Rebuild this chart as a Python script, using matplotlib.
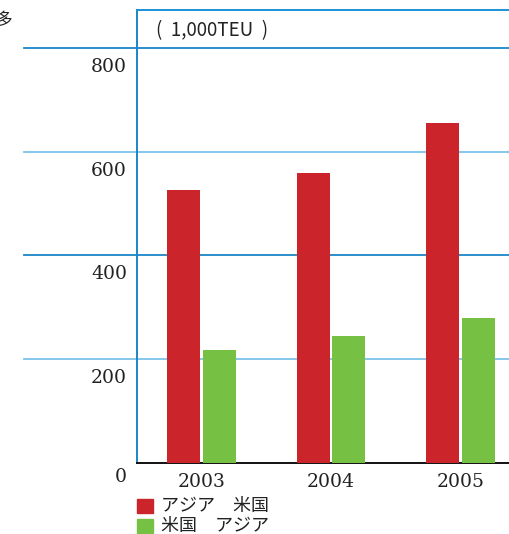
import matplotlib
matplotlib.use('Agg')
import matplotlib.pyplot as plt
import matplotlib.transforms as mtransforms
from matplotlib.patches import Rectangle

years = ['2003', '2004', '2005']
asia_to_us = [527, 558, 656]
us_to_asia = [218, 245, 280]
yticks = [0, 200, 400, 600, 800]
legend_labels = ['アジア\u3000米国', '米国\u3000アジア']
unit_label = '(  1,000TEU  )'

red = '#cc242b'
green = '#76c043'
blue_dark = '#1a86c8'
blue_light = '#7cc3ea'

plt.rcParams['font.family'] = ['Noto Sans CJK JP', 'DejaVu Sans']

fig = plt.figure(figsize=(5.10, 5.34), dpi=100)
ax = fig.add_axes([137 / 510, 71 / 534, 373 / 510, 453 / 534])

x = range(len(years))
w = 0.255
off = 0.136
ax.bar([i - off for i in x], asia_to_us, width=w, color=red, zorder=3)
ax.bar([i + off for i in x], us_to_asia, width=w, color=green, zorder=3)

ax.set_xlim(-0.498, 2.382)
ax.set_ylim(0, 873)

# gridlines reaching out past the left spine
for k, v in enumerate(yticks[1:]):
    col = blue_light if k % 2 == 0 else blue_dark
    ax.axhline(v, xmin=-0.303, xmax=1, color=col, lw=1.3, clip_on=False, zorder=1)

ax.spines['right'].set_visible(False)
ax.spines['top'].set_color('#1a90d8')
ax.spines['top'].set_linewidth(1.4)
ax.spines['left'].set_color('#1a86c8')
ax.spines['left'].set_linewidth(1.4)
ax.spines['bottom'].set_color('#111111')
ax.spines['bottom'].set_linewidth(1.4)

ax.set_xticks([])
ax.set_yticks([])

# y labels sit just below their gridline
trans = mtransforms.blended_transform_factory(ax.transAxes, ax.transData)
for v in yticks:
    shift = -14 if v == 0 else -19
    ax.annotate(str(v), xy=(-0.027, v), xycoords=trans, xytext=(0, shift * 0.72),
                textcoords='offset points', ha='right', va='center',
                fontsize=13.5, family='DejaVu Serif', color='#222222')

for i, yr in enumerate(years):
    ax.annotate(yr, xy=(i, 0), xycoords=('data', 'data'), xytext=(0, -14),
                textcoords='offset points', ha='center', va='center',
                fontsize=13.5, family='DejaVu Serif', color='#222222')

fig.text(156 / 510, 1 - 31 / 534, unit_label, fontsize=13.5, va='center', ha='left',
         color='#222222')
fig.text(-4 / 510, 1 - 20 / 534, '多', fontsize=12, va='center', ha='left', color='#222222')

# legend
for j, (lab, col) in enumerate(zip(legend_labels, [red, green])):
    yc = 506 + j * 20
    fig.patches.append(Rectangle((137 / 510, 1 - (yc + 7) / 534), 16 / 510, 14 / 534,
                                 transform=fig.transFigure, color=col))
    fig.text(161 / 510, 1 - yc / 534, lab, fontsize=13, va='center', ha='left',
             color='#222222')

fig.savefig('out.png', dpi=100)
